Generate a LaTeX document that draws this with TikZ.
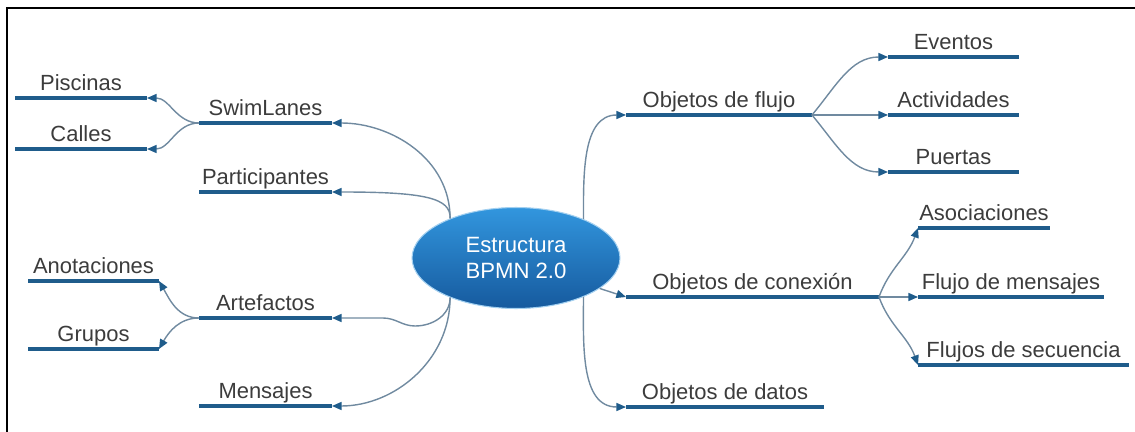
\documentclass[tikz,border=0pt]{standalone}
\usepackage{fontspec}
\setmainfont{Liberation Sans}
\usetikzlibrary{arrows.meta, shapes.geometric}
\definecolor{lineblue}{RGB}{31, 92, 139}
\definecolor{linkgray}{RGB}{112, 138, 160}
\definecolor{labelgray}{RGB}{60, 60, 60}
\definecolor{bpmnlight}{RGB}{50, 150, 222}
\definecolor{bpmndark}{RGB}{22, 90, 158}

\begin{document}
\begin{tikzpicture}[
  x=0.02cm, y=-0.02cm,
  root/.style={ellipse, minimum width=4.16cm, minimum height=2.02cm, inner sep=0pt, top color=bpmnlight, bottom color=bpmndark, draw=bpmnlight!45!white, line width=0.6pt, text=white, align=center, font=\fontsize{12.6}{14.7}\selectfont},
  item/.style={anchor=south, inner xsep=0pt, inner ysep=4.5pt, outer sep=0pt, text depth=0pt, text=labelgray, font=\fontsize{12.5}{15}\selectfont},
  uline/.style={lineblue, line width=2.4pt},
  link/.style={-{Triangle[color=lineblue, length=5.5pt, width=4.6pt]}, linkgray, line width=0.8pt},
  frame/.style={black, line width=1.7pt},
]
\useasboundingbox (0,0) rectangle (1135,432);
\draw[frame] (7,432) -- (7,8) -- (1135,8);

% Root
\node[root] (bpmn) at (516,258) {Estructura\\BPMN 2.0};

% Left: level 1
\node[item, minimum width=2.66cm] (swim) at (265.5,123) {SwimLanes};
\node[item, minimum width=2.66cm] (part) at (265.5,192) {Participantes};
\node[item, minimum width=2.66cm] (arte) at (265.5,318) {Artefactos};
\node[item, minimum width=2.66cm] (mens) at (265.5,406) {Mensajes};

% Left: level 2
\node[item, minimum width=2.64cm] (pisc) at (81,98) {Piscinas};
\node[item, minimum width=2.64cm] (calles) at (81,149) {Calles};
\node[item, minimum width=2.62cm] (anot) at (93.5,281) {Anotaciones};
\node[item, minimum width=2.62cm] (grup) at (93.5,349) {Grupos};

% Right: level 1
\node[item, minimum width=3.72cm] (flujo) at (719,115) {Objetos de flujo};
\node[item, minimum width=5.06cm] (conex) at (752.5,297) {Objetos de conexión};
\node[item, minimum width=3.96cm] (datos) at (725,407) {Objetos de datos};

% Right: level 2
\node[item, minimum width=2.62cm] (event) at (953.5,57) {Eventos};
\node[item, minimum width=2.62cm] (activ) at (953.5,115) {Actividades};
\node[item, minimum width=2.62cm] (puert) at (953.5,172) {Puertas};
\node[item, minimum width=2.64cm] (asoc) at (984,228) {Asociaciones};
\node[item, minimum width=3.72cm] (mensf) at (1011,297) {Flujo de mensajes};
\node[item, minimum width=4.22cm] (secu) at (1023.5,365) {Flujos de secuencia};

% Underlines
\foreach \n in {swim, part, arte, mens, pisc, calles, anot, grup, flujo, conex, datos, event, activ, puert, asoc, mensf, secu}
  \draw[uline] (\n.south west) -- (\n.south east);

% Links to the left
\coordinate (artbend) at (415,326);
\coordinate (artstep) at (383,318);
\draw[link] (bpmn.149) to[out=90, in=0] (swim.south east);
\draw[link] (bpmn.149) .. controls (451,198) and (425,192) .. (part.south east);
\draw[link] (bpmn.-149) to[out=-90, in=0] (artbend) to[out=180, in=0] (artstep) -- (arte.south east);
\draw[link] (bpmn.-149) to[out=-90, in=0] (mens.south east);
\draw[link] (swim.south west) to[out=180, in=0] (pisc.south east);
\draw[link] (swim.south west) to[out=180, in=0] (calles.south east);
\draw[link] (arte.south west) to[out=180, in=-60] (anot.south east);
\draw[link] (arte.south west) to[out=180, in=60] (grup.south east);

% Links to the right
\draw[link] (bpmn.30) to[out=90, in=180] (flujo.south west);
\draw[link] (bpmn.-20) -- (conex.south west);
\draw[link] (bpmn.-30) to[out=-90, in=180] (datos.south west);
\draw[link] (flujo.south east) to[out=50, in=180] (event.south west);
\draw[link] (flujo.south east) -- (activ.south west);
\draw[link] (flujo.south east) to[out=-50, in=180] (puert.south west);
\draw[link] (conex.south east) to[out=70, in=-110] (asoc.south west);
\draw[link] (conex.south east) -- (mensf.south west);
\draw[link] (conex.south east) to[out=-70, in=110] (secu.south west);
\end{tikzpicture}
\end{document}
